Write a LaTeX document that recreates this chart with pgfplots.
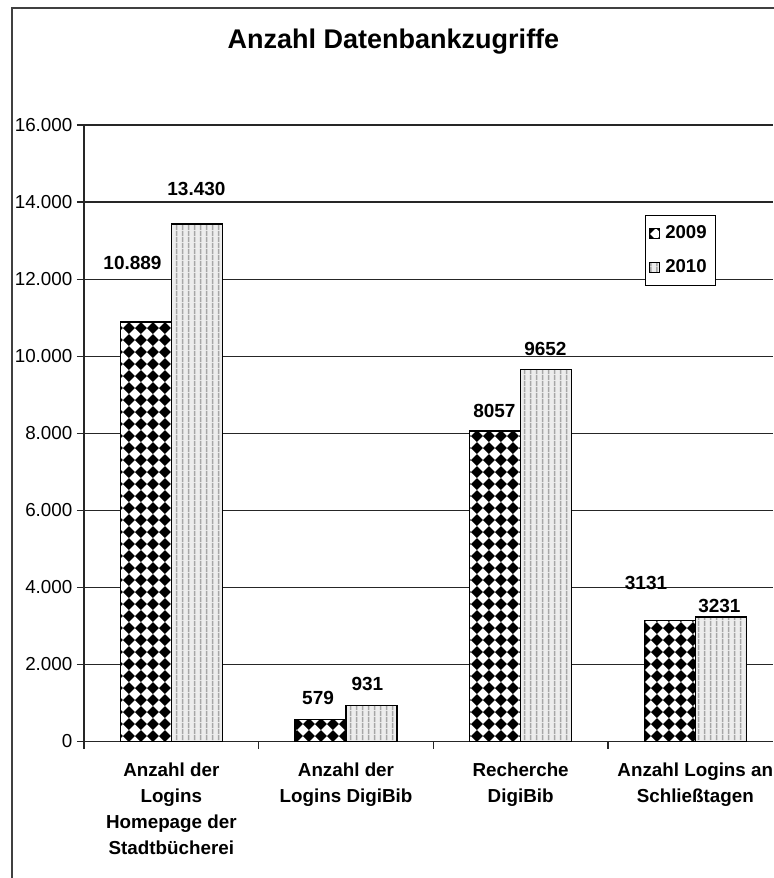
\documentclass[border=0pt]{standalone}
\usepackage{pgfplots}
\pgfplotsset{compat=1.18}
\usepackage{fontspec}
\setmainfont{Liberation Sans}
\usetikzlibrary{patterns}

\pgfdeclarepatternformonly{diamondcheck}{\pgfpointorigin}{\pgfqpoint{6.2pt}{6.2pt}}{\pgfqpoint{6.2pt}{6.2pt}}{%
  \pgfpathmoveto{\pgfqpoint{3.1pt}{0pt}}%
  \pgfpathlineto{\pgfqpoint{6.2pt}{3.1pt}}%
  \pgfpathlineto{\pgfqpoint{3.1pt}{6.2pt}}%
  \pgfpathlineto{\pgfqpoint{0pt}{3.1pt}}%
  \pgfpathclose\pgfusepath{fill}}
\pgfdeclarepatternformonly{vstripes}{\pgfpointorigin}{\pgfqpoint{3pt}{3pt}}{\pgfqpoint{3pt}{3pt}}{%
  \pgfpathrectangle{\pgfqpoint{1.1pt}{0pt}}{\pgfqpoint{0.8pt}{3pt}}\pgfusepath{fill}}

\begin{document}
\begin{tikzpicture}
\path[use as bounding box] (0,0) rectangle (386.5pt,439pt);
\fill[white] (0,0) rectangle (386.5pt,439pt);
\draw[black!75, line width=0.6pt] (6pt,-1pt) -- (6pt,435pt) -- (390pt,435pt);
\node[font=\fontsize{13.5}{16}\selectfont\bfseries] at (196.75pt,418pt) {Anzahl Datenbankzugriffe};
\begin{axis}[
  at={(42pt,68.25pt)}, anchor=south west,
  scale only axis, width=344.5pt, height=308.25pt,
  xmin=0, xmax=3.945, ymin=0, ymax=16000,
  axis lines*=left,
  axis line style={black!85, line width=0.6pt},
  tick style={black!85, line width=0.6pt},
  tick align=outside, major tick length=3.5pt,
  ytick={0,2000,...,16000},
  scaled y ticks=false,
  yticklabel style={font=\fontsize{9.4}{11}\selectfont, xshift=1.2pt},
  ymajorgrids, grid style={black!85, line width=0.6pt},
  xtick={0,1,2,3}, xticklabels={,,,},
  extra x ticks={0.5,1.5,2.5,3.5},
  extra x tick labels={{Anzahl der\\Logins\\Homepage der\\Stadtbücherei},{Anzahl der\\Logins DigiBib},{Recherche\\DigiBib},{Anzahl Logins an\\Schließtagen}},
  extra x tick style={major tick length=0pt, grid=none},
  xticklabel style={font=\fontsize{9.4}{13}\selectfont\bfseries, align=center, anchor=north, yshift=-7pt},
  ybar=0pt, bar width=0.292,
  legend style={at={(0.8142,0.854)}, anchor=north west, draw=black, line width=0.5pt,
    font=\fontsize{9.3}{10}\selectfont\bfseries, inner xsep=2pt, inner ysep=3pt, row sep=5pt,
    nodes={inner xsep=2.5pt}},
  legend cell align=left,
  legend image code/.code={\draw[#1, line width=0.4pt] (0pt,-2.5pt) rectangle (5pt,2.5pt);},
  /pgf/number format/1000 sep={.},
  /pgf/number format/assume math mode=true,
]
\addplot[bar shift=-0.146, preaction={fill=white}, pattern=diamondcheck, pattern color=black, draw=black, line width=0.6pt]
  coordinates {(0.5,10889) (1.5,579) (2.5,8057) (3.5,3131)};
\addplot[bar shift=0.146, preaction={fill=black!7}, pattern=vstripes, pattern color=black!35, draw=black, line width=0.6pt]
  coordinates {(0.5,13430) (1.5,931) (2.5,9652) (3.5,3231)};
\legend{2009,2010}
\begin{scope}[every node/.style={font=\fontsize{9.5}{11}\selectfont\bfseries, inner sep=0pt}]
\node at (axis cs:0.2777,12427) {10.889};
\node at (axis cs:0.644,14339) {13.430};
\node at (axis cs:1.340,1129) {579};
\node at (axis cs:1.623,1492) {931};
\node at (axis cs:2.350,8578) {8057};
\node at (axis cs:2.642,10187) {9652};
\node at (axis cs:3.218,4114) {3131};
\node at (axis cs:3.638,3517) {3231};
\end{scope}
\end{axis}
\end{tikzpicture}
\end{document}
